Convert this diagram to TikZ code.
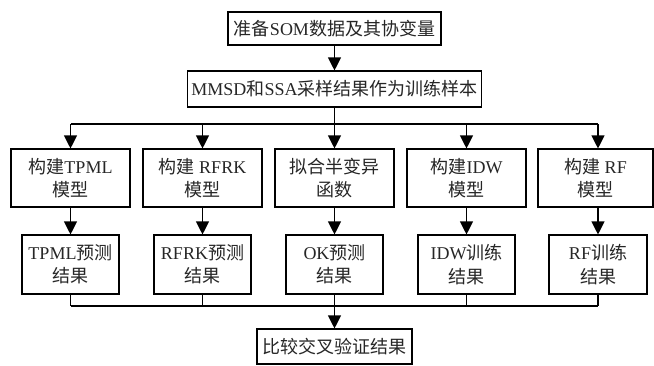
\documentclass[tikz,border=0pt]{standalone}
\usepackage{fontspec}
\setmainfont{Liberation Serif}
\newfontfamily\cjk{Noto Sans CJK SC}
\usetikzlibrary{arrows.meta}
\newcommand\zh[1]{{\cjk #1}}
\begin{document}
\begin{tikzpicture}[x=1pt,y=-1pt,
  box/.style={draw, line width=1.1pt, inner sep=0pt, align=center,
    font=\fontsize{18}{23.5}\selectfont, text=black!85},
  rowone/.style={box, minimum width=119pt, minimum height=58pt},
  rowtwo/.style={box, minimum width=97pt, minimum height=59pt},
  arr/.style={line width=1.1pt, -{Triangle[length=13pt,width=13pt]}},
  ln/.style={line width=1.1pt}]
\useasboundingbox (0,0) rectangle (654,365);
\node[box, minimum width=213pt, minimum height=33pt] (a) at (334.5,28.5) {\zh{准备}SOM\zh{数据及其协变量}};
\node[box, minimum width=294pt, minimum height=36pt] (b) at (334.5,89) {MMSD\zh{和}SSA\zh{采样结果作为训练样本}};
\node[rowone] (r1a) at (70.5,178) {\zh{构建}TPML\\\zh{模型}};
\node[rowone] (r1b) at (202.5,178) {\zh{构建} RFRK\\\zh{模型}};
\node[rowone] (r1c) at (334.5,178) {\zh{拟合半变异}\\\zh{函数}};
\node[rowone] (r1d) at (466.5,178) {\zh{构建}IDW\\\zh{模型}};
\node[rowone, minimum width=115pt] (r1e) at (595.5,178) {\zh{构建} RF\\\zh{模型}};
\node[rowtwo] (r2a) at (70.5,264.5) {TPML\zh{预测}\\\zh{结果}};
\node[rowtwo] (r2b) at (202.5,264.5) {RFRK\zh{预测}\\\zh{结果}};
\node[rowtwo] (r2c) at (334.5,264.5) {OK\zh{预测}\\\zh{结果}};
\node[rowtwo] (r2d) at (466.5,264.5) {IDW\zh{训练}\\\zh{结果}};
\node[rowtwo, minimum width=98pt] (r2e) at (598,264.5) {RF\zh{训练}\\\zh{结果}};
\node[box, minimum width=155pt, minimum height=35pt] (f) at (334.5,346.5) {\zh{比较交叉验证结果}};
\coordinate (h1) at (334.5,124);
\coordinate (h2) at (334.5,306);
\draw[arr] (a.south) -- (a.south |- b.north);
\draw[ln] (b.south) -- (h1);
\draw[ln] (r2a.north |- h1) -- (r2e.north |- h1);
\foreach \n in {a,b,c,d,e}{
  \draw[arr] (r2\n.north |- h1) -- (r2\n.north |- r1\n.north);
  \draw[arr] (r2\n.north |- r1\n.south) -- (r2\n.north);
  \draw[ln] (r2\n.south) -- (r2\n.south |- h2);
}
\draw[ln] (r2a.south |- h2) -- (r2e.south |- h2);
\draw[arr] (h2) -- (f.north);
\end{tikzpicture}
\end{document}
